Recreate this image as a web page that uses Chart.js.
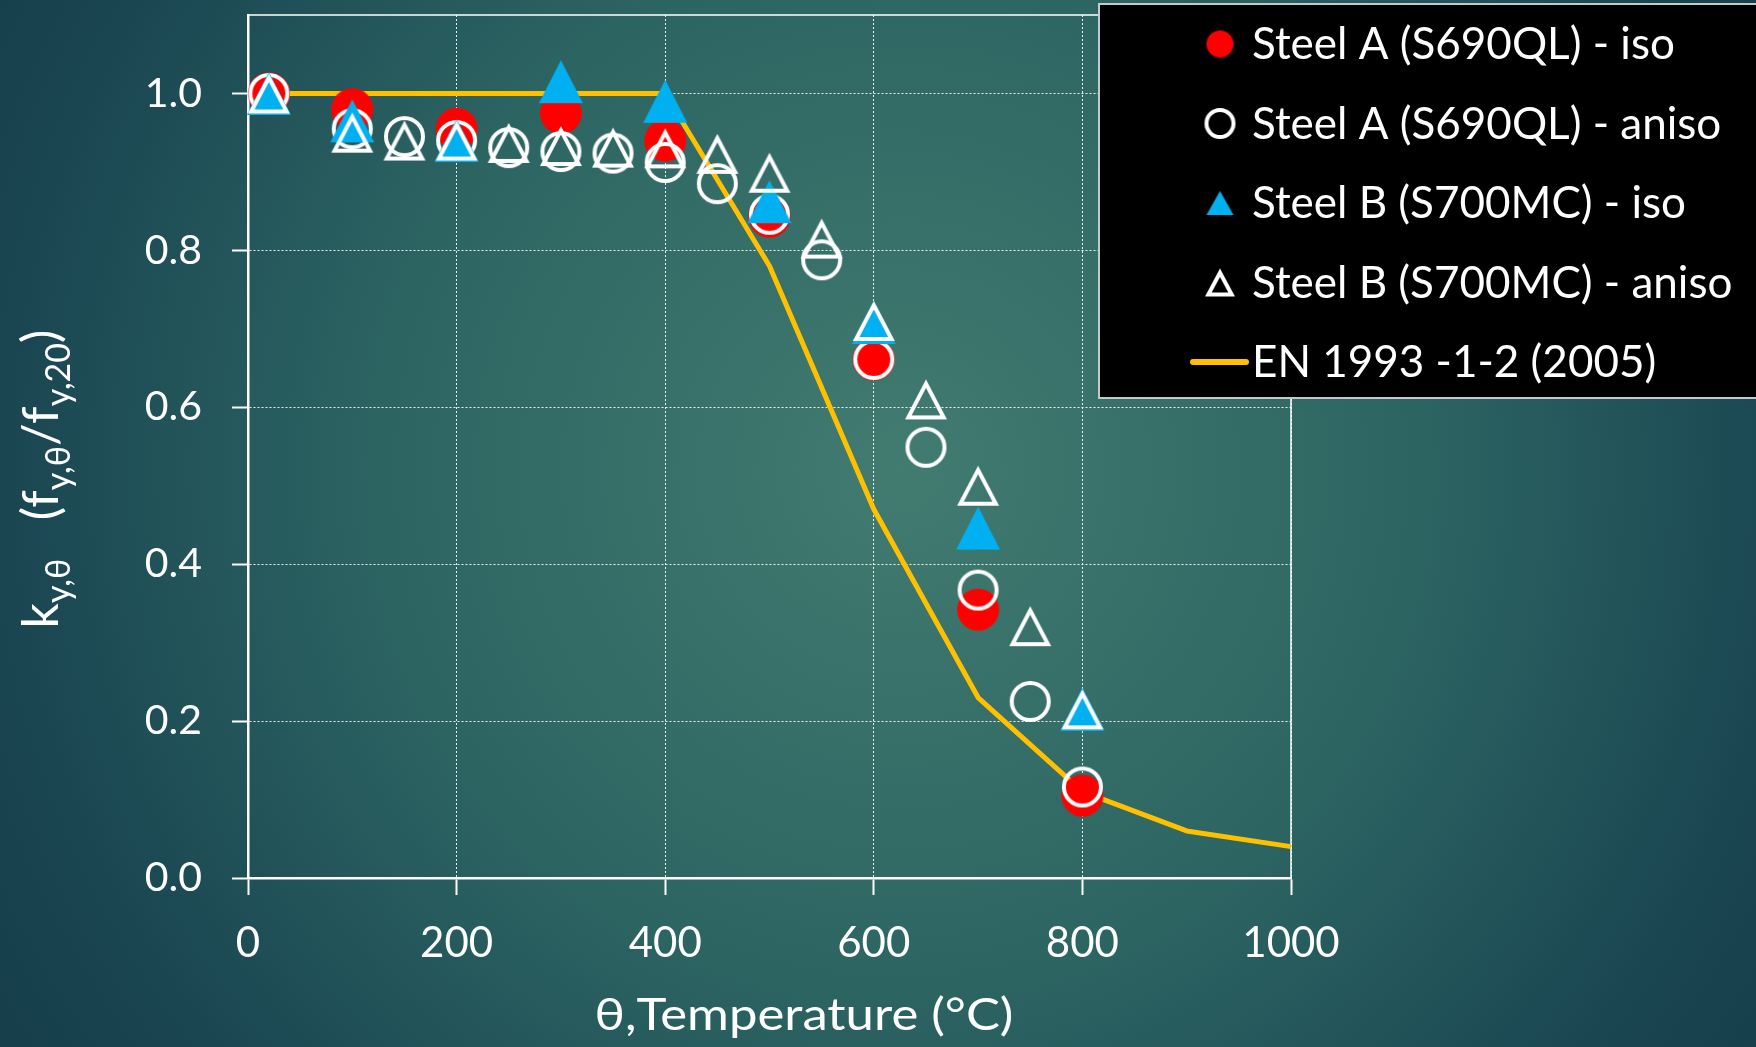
<!DOCTYPE html>
<html>
<head>
<meta charset="utf-8">
<title>Yield strength reduction factor vs temperature</title>
<script src="https://cdn.jsdelivr.net/npm/chart.js@4/dist/chart.umd.min.js"></script>
<style>
  html, body { margin: 0; padding: 0; overflow: hidden; }
  body {
    width: 1756px; height: 1047px;
    background: radial-gradient(circle 1050px at 900px 470px, #427b70 0%, #2c6462 50%, #1a4652 85%, #163e4b 100%);
  }
  canvas { display: block; }
</style>
</head>
<body>
<canvas id="chart" width="1756" height="1047"></canvas>
<script>
// Test temperatures (°C)
const isoTemps   = [20, 100, 200, 300, 400, 500, 600, 700, 800];
const anisoTemps = [20, 100, 150, 200, 250, 300, 350, 400, 450, 500, 550, 600, 650, 700, 750, 800];
const enTemps    = [20, 100, 200, 300, 400, 500, 600, 700, 800, 900, 1000];

// Reduction factor k_y,θ = f_y,θ / f_y,20
const steelAIso   = [1.0, 0.98, 0.955, 0.975, 0.94, 0.843, 0.661, 0.342, 0.105];
const steelAAniso = [1.0, 0.955, 0.945, 0.94, 0.931, 0.926, 0.924, 0.912, 0.885, 0.846, 0.788, 0.661, 0.549, 0.367, 0.225, 0.116];
const steelBIso   = [1.0, 0.965, 0.94, 1.015, 0.99, 0.862, 0.708, 0.446, 0.215];
const steelBAniso = [1.0, 0.95, 0.94, 0.94, 0.937, 0.933, 0.931, 0.93, 0.923, 0.899, 0.815, 0.71, 0.61, 0.5, 0.321, 0.215];
const en1993      = [1.0, 1.0, 1.0, 1.0, 1.0, 0.78, 0.47, 0.23, 0.11, 0.06, 0.04];

// Axis ticks
const xTickValues = [0, 200, 400, 600, 800, 1000];
const yTickValues = [0.0, 0.2, 0.4, 0.6, 0.8, 1.0];

// Series names
const seriesNames = [
  'Steel A (S690QL) - iso',
  'Steel A (S690QL) - aniso',
  'Steel B (S700MC) - iso',
  'Steel B (S700MC) - aniso',
  'EN 1993 -1-2 (2005)'
];

// Axis titles (y title parts: [text, isSubscript])
const xTitle = 'θ,Temperature (°C)';
const yTitleParts = [['k', 0], ['y,θ', 1], ['   (f', 0], ['y,θ', 1], ['/f', 0], ['y,20', 1], [')', 0]];

const RED = '#ff0000', BLUE = '#00b0f0', GOLD = '#ffc000', WHITE = '#ffffff';
const FONT = 'Lato, "Open Sans", sans-serif';

// ---- marker sprites ----
function makeCanvas(w, h) {
  const c = document.createElement('canvas');
  c.width = w; c.height = h;
  return c;
}
function disc(r, color) {
  const s = Math.ceil(2 * r) + 2, c = makeCanvas(s, s), g = c.getContext('2d');
  g.fillStyle = color; g.beginPath(); g.arc(s / 2, s / 2, r, 0, Math.PI * 2); g.fill();
  return c;
}
function ring(R, t, color) {
  const s = Math.ceil(2 * R) + 2, c = makeCanvas(s, s), g = c.getContext('2d');
  g.strokeStyle = color; g.lineWidth = t;
  g.beginPath(); g.arc(s / 2, s / 2, R - t / 2, 0, Math.PI * 2); g.stroke();
  return c;
}
function triangle(W, H, color, t) {
  const c = makeCanvas(Math.ceil(W) + 2, Math.ceil(H) + 2), g = c.getContext('2d');
  const ox = 1, oy = 1;
  const A = [ox, oy + H], B = [ox + W, oy + H], C = [ox + W / 2, oy];
  g.fillStyle = color;
  g.beginPath();
  g.moveTo(A[0], A[1]); g.lineTo(B[0], B[1]); g.lineTo(C[0], C[1]); g.closePath();
  if (t) {
    const L = Math.hypot(W / 2, H);
    const r = (W * H / 2) / ((W + 2 * L) / 2);
    const I = [ox + W / 2, oy + H - r];
    const k = (r - t) / r;
    const P = [A, C, B].map(v => [I[0] + k * (v[0] - I[0]), I[1] + k * (v[1] - I[1])]);
    g.moveTo(P[0][0], P[0][1]); g.lineTo(P[1][0], P[1][1]); g.lineTo(P[2][0], P[2][1]); g.closePath();
    g.fill('evenodd');
  } else {
    g.fill();
  }
  return c;
}

const plotMarkers = [disc(21, RED), ring(20.5, 4, WHITE), triangle(44, 43, BLUE), triangle(42, 40, WHITE, 4)];
const legendMarkers = [disc(13.5, RED), ring(15.5, 4, WHITE), triangle(27, 24, BLUE), triangle(30, 28, WHITE, 4)];

function pts(xs, ys) { return xs.map((x, i) => ({ x: x, y: ys[i] })); }

// ---- plugins ----
const framePlugin = {
  id: 'frame',
  beforeDatasetsDraw(chart) {
    const { ctx, chartArea: a } = chart;
    ctx.save();
    ctx.strokeStyle = WHITE; ctx.lineWidth = 1.5;
    ctx.beginPath();
    ctx.moveTo(a.left, a.top); ctx.lineTo(a.right, a.top); ctx.lineTo(a.right, a.bottom);
    ctx.stroke();
    ctx.restore();
  }
};

// Axis titles: x title slightly stretched and offset, y title with subscripts
const axisTitlesPlugin = {
  id: 'axisTitles',
  afterDraw(chart) {
    const ctx = chart.ctx;
    ctx.save();
    ctx.fillStyle = WHITE;
    ctx.font = '45px ' + FONT;
    ctx.textAlign = 'center';
    ctx.textBaseline = 'alphabetic';
    ctx.translate(804, 1030);
    ctx.scale(1.13, 1);
    ctx.fillText(xTitle, 0, 0);
    ctx.restore();

    const mainFont = '50px ' + FONT, subFont = '34px ' + FONT;
    ctx.save();
    let total = 0;
    const widths = yTitleParts.map(([t, s]) => {
      ctx.font = s ? subFont : mainFont;
      const w = ctx.measureText(t).width; total += w; return w;
    });
    ctx.translate(58, 479);
    ctx.rotate(-Math.PI / 2);
    ctx.fillStyle = WHITE;
    ctx.textBaseline = 'alphabetic';
    ctx.textAlign = 'left';
    let x = -total / 2;
    yTitleParts.forEach(([t, s], i) => {
      ctx.font = s ? subFont : mainFont;
      ctx.fillText(t, x, s ? 12 : 0);
      x += widths[i];
    });
    ctx.restore();
  }
};

const legendBoxPlugin = {
  id: 'legendBox',
  afterDraw(chart) {
    const ctx = chart.ctx;
    ctx.save();
    ctx.fillStyle = '#000000';
    ctx.fillRect(1099, 4, 700, 394);
    ctx.strokeStyle = '#c8c8c8'; ctx.lineWidth = 2;
    ctx.strokeRect(1099, 4, 700, 394);
    ctx.font = '44px ' + FONT;
    ctx.fillStyle = WHITE;
    ctx.textBaseline = 'middle';
    ctx.textAlign = 'left';
    seriesNames.forEach((name, i) => {
      const cy = 44 + i * 79.5;
      if (i < 4) {
        const m = legendMarkers[i];
        ctx.drawImage(m, 1220 - m.width / 2, cy - m.height / 2);
      } else {
        ctx.strokeStyle = GOLD; ctx.lineWidth = 6; ctx.lineCap = 'round';
        ctx.beginPath(); ctx.moveTo(1193, cy); ctx.lineTo(1246, cy); ctx.stroke();
      }
      ctx.fillText(name, 1252, cy + 1);
    });
    ctx.restore();
  }
};

const gridColor = 'rgba(255,255,255,0.9)';

new Chart(document.getElementById('chart'), {
  type: 'scatter',
  data: {
    datasets: [
      { label: seriesNames[0], data: pts(isoTemps, steelAIso), pointStyle: plotMarkers[0], pointRadius: 21, pointHoverRadius: 21, order: 4, clip: false },
      { label: seriesNames[1], data: pts(anisoTemps, steelAAniso), pointStyle: plotMarkers[1], pointRadius: 21, pointHoverRadius: 21, order: 3, clip: false },
      { label: seriesNames[2], data: pts(isoTemps, steelBIso), pointStyle: plotMarkers[2], pointRadius: 22, pointHoverRadius: 22, order: 2, clip: false },
      { label: seriesNames[3], data: pts(anisoTemps, steelBAniso), pointStyle: plotMarkers[3], pointRadius: 21, pointHoverRadius: 21, order: 1, clip: false },
      { label: seriesNames[4], data: pts(enTemps, en1993), showLine: true, borderColor: GOLD, borderWidth: 5,
        pointRadius: 0, pointHoverRadius: 0, tension: 0, order: 5, clip: false, borderJoinStyle: 'round' }
    ]
  },
  options: {
    responsive: false,
    devicePixelRatio: 1,
    animation: false,
    events: [],
    layout: { autoPadding: false, padding: { top: 15, right: 465, left: 0, bottom: 0 } },
    plugins: { legend: { display: false }, tooltip: { enabled: false } },
    scales: {
      x: {
        type: 'linear', min: 0, max: 1000,
        afterBuildTicks: s => { s.ticks = xTickValues.map(v => ({ value: v })); },
        afterFit: s => { s.height = 169; },
        ticks: { color: WHITE, font: { family: FONT, size: 42 }, padding: 23, maxRotation: 0, callback: v => String(v) },
        grid: { color: gridColor, lineWidth: 1, tickLength: 17, tickColor: WHITE, tickWidth: 2, tickBorderDash: [] },
        border: { display: true, color: WHITE, width: 2.5, dash: [2, 2] }
      },
      y: {
        type: 'linear', min: 0, max: 1.1,
        afterBuildTicks: s => { s.ticks = yTickValues.map(v => ({ value: v })); },
        afterFit: s => { s.width = 248; s.paddingTop = 0; s.paddingBottom = 0; },
        ticks: { color: WHITE, font: { family: FONT, size: 41, lineHeight: 0.6 }, padding: 30, callback: v => v.toFixed(1) },
        grid: { color: gridColor, lineWidth: 1, tickLength: 16, tickColor: WHITE, tickWidth: 2, tickBorderDash: [] },
        border: { display: true, color: WHITE, width: 2.5, dash: [2, 2] }
      }
    }
  },
  plugins: [framePlugin, axisTitlesPlugin, legendBoxPlugin]
});
</script>
</body>
</html>
